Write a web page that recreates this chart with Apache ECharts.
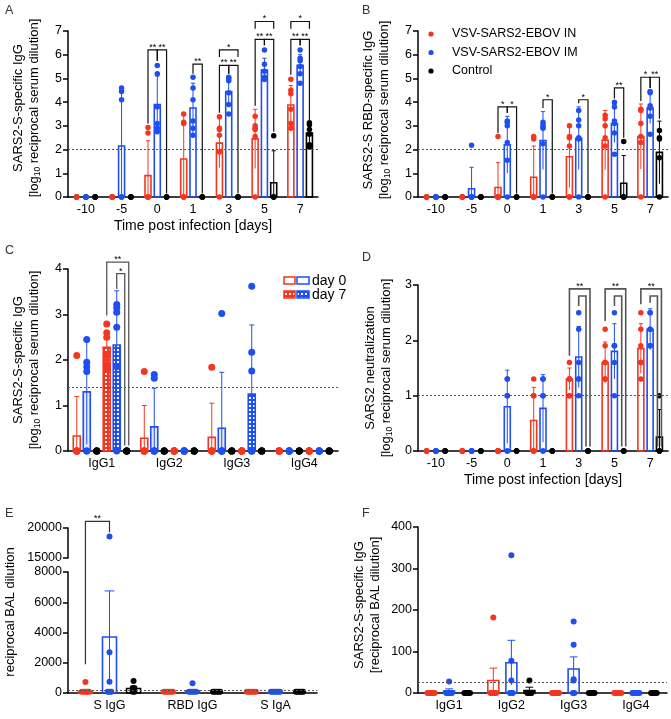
<!DOCTYPE html>
<html>
<head>
<meta charset="utf-8">
<script src="https://cdn.jsdelivr.net/npm/echarts@6/dist/echarts.min.js"></script>
<style>
  html, body { margin: 0; background: #fff; }
  #main { width: 671px; height: 719px; }
</style>
</head>
<body>
<div id="main"></div>
<script>
var RED = '#f5361f'
var BLUE = '#1e4ff2'
var BLACK = '#000000'
var FONT = 'Liberation Sans'

// A / B / D: groups are days post infection
var dayCats = ['-10', '-5', '0', '1', '3', '5', '7']

// A: SARS2-S-specific IgG, log10 serum dilution
var aMeanIN = [0, 0, 0.9, 1.6, 2.27, 2.45, 3.88]
var aTopIN = [0, 0, 2.37, 3.45, 3.3, 3.7, 4.7]
var aPtsIN = [[0, 0, 0, 0, 0, 0], [0, 0, 0, 0, 0, 0], [2.93, 2.7, 0, 0, 0, 0], [3.5, 3.15, 3.1, 0, 0, 0], [3.38, 2.9, 2.85, 2.6, 1.9, 0], [3.4, 3.0, 2.9, 2.85, 2.55, 0], [4.97, 4.5, 4.35, 3.7, 3.1, 2.9]]
var aMeanIM = [0, 2.15, 3.9, 3.75, 4.45, 5.35, 5.55]
var aTopIM = [0, 4.5, 5.1, 4.8, 4.98, 5.85, 6.0]
var aPtsIM = [[0, 0, 0, 0, 0, 0], [4.6, 4.45, 4.1, 0, 0, 0], [5.55, 5.2, 3.8, 3.1, 2.9, 2.75], [5.05, 4.6, 4.1, 3.2, 2.9, 2.6], [5.05, 5.0, 4.9, 4.4, 3.9, 3.5], [6.2, 5.6, 5.3, 5.05, 5.0, 4.95], [6.2, 5.85, 5.75, 5.5, 5.2, 4.8]]
var aMeanCtl = [0, 0, 0, 0, 0, 0.6, 2.7]
var aTopCtl = [0, 0, 0, 0, 0, 1.95, 3.12]
var aPtsCtl = [[0, 0, 0, 0], [0, 0, 0, 0], [0, 0, 0, 0], [0, 0, 0, 0], [0, 0, 0, 0], [2.58, 0, 0, 0], [3.13, 3.05, 2.85, 2.65, 2.2, 2.1]]
// [group, left bar, right bar, top, left leg end, right leg end, label, nest]
var aBrackets = [
  [2, 0, 1, 6.2, 3.1, 5.75, '**', 0],
  [2, 1, 2, 6.2, 5.75, 0.15, '**', 0],
  [3, 1, 2, 5.6, 5.2, 0.15, '**', 0],
  [4, 0, 2, 6.2, 5.9, 5.9, '*', 0],
  [4, 0, 1, 5.55, 3.55, 5.2, '**', 0],
  [4, 1, 2, 5.55, 5.2, 0.15, '**', 0],
  [5, 0, 2, 7.4, 7.1, 7.1, '*', 0],
  [5, 0, 1, 6.65, 3.85, 6.4, '**', 0],
  [5, 1, 2, 6.65, 6.4, 2.75, '**', 0],
  [6, 0, 2, 7.4, 7.1, 7.1, '*', 0],
  [6, 0, 1, 6.65, 5.15, 6.4, '**', 0],
  [6, 1, 2, 6.65, 6.4, 3.2, '**', 0]
]

// B: SARS2-S RBD-specific IgG
var bMeanIN = [0, 0, 0.4, 0.83, 1.7, 2.4, 2.55]
var bTopIN = [0, 0, 1.45, 2.15, 3.0, 3.65, 3.92]
var bPtsIN = [[0, 0, 0, 0, 0, 0], [0, 0, 0, 0, 0, 0], [2.55, 0, 0, 0, 0, 0], [2.55, 2.45, 0, 0, 0, 0], [3.0, 2.55, 2.5, 2.15, 0, 0], [3.45, 3.3, 3.0, 2.5, 2.15, 0], [3.7, 3.65, 3.1, 2.55, 2.3, 0]]
var bMeanIM = [0, 0.35, 2.2, 2.38, 2.48, 3.1, 3.75]
var bTopIM = [0, 1.25, 3.4, 3.6, 3.8, 3.9, 4.4]
var bPtsIM = [[0, 0, 0, 0, 0, 0], [2.18, 0, 0, 0, 0, 0], [3.2, 3.15, 3.0, 2.3, 1.55, 0], [3.15, 3.05, 2.95, 2.9, 2.25, 0], [3.65, 3.25, 3.0, 2.5, 2.45, 0], [4.0, 3.8, 3.2, 3.1, 2.7, 1.8], [4.45, 4.4, 3.85, 3.75, 3.4, 2.65]]
var bMeanCtl = [0, 0, 0, 0, 0, 0.58, 1.88]
var bTopCtl = [0, 0, 0, 0, 0, 1.75, 3.2]
var bPtsCtl = [[0, 0, 0, 0], [0, 0, 0, 0], [0, 0, 0, 0], [0, 0, 0, 0], [0, 0, 0, 0], [2.34, 0, 0, 0], [2.8, 2.5, 2.45, 1.65, 0]]
var bBrackets = [
  [2, 0, 1, 3.8, 2.7, 3.55, '*', 0],
  [2, 1, 2, 3.8, 3.55, 0.15, '*', 0],
  [3, 1, 2, 4.1, 3.75, 0.15, '*', 0],
  [4, 1, 2, 4.1, 3.95, 0.15, '*', 0],
  [5, 1, 2, 4.6, 4.15, 2.5, '**', 0],
  [6, 0, 1, 5.05, 4.05, 4.6, '*', 0],
  [6, 1, 2, 5.05, 4.6, 3.3, '**', 0]
]

// C: IgG subclasses, day 0 and day 7
var subCats = ['IgG1', 'IgG2', 'IgG3', 'IgG4']
var cMeanIN0 = [0.33, 0.28, 0.3, 0]
var cTopIN0 = [1.2, 1.0, 1.05, 0]
var cPtsIN0 = [[2.1, 0, 0, 0, 0, 0], [1.75, 0, 0, 0, 0, 0], [1.84, 0, 0, 0, 0, 0], [0, 0, 0, 0, 0, 0]]
var cMeanIM0 = [1.3, 0.53, 0.5, 0]
var cTopIM0 = [2.45, 1.38, 1.73, 0]
var cPtsIM0 = [[2.45, 1.95, 1.85, 1.75, 0, 0], [1.68, 1.6, 0, 0, 0, 0], [3.02, 0, 0, 0, 0, 0], [0, 0, 0, 0, 0, 0]]
var cMeanCtl0 = [0, 0, 0, 0]
var cPtsCtl0 = [[0, 0, 0, 0], [0, 0, 0, 0], [0, 0, 0, 0], [0, 0, 0, 0]]
var cMeanIN7 = [2.28, 0, 0, 0]
var cTopIN7 = [2.5, 0, 0, 0]
var cPtsIN7 = [[2.79, 2.6, 2.5, 2.1, 1.9, 1.8], [0, 0, 0, 0, 0, 0], [0, 0, 0, 0, 0, 0], [0, 0, 0, 0, 0, 0]]
var cMeanIM7 = [2.33, 0, 1.25, 0]
var cTopIM7 = [3.52, 0, 2.77, 0]
var cPtsIM7 = [[3.22, 3.15, 3.05, 2.72, 1.85, 0], [0, 0, 0, 0, 0, 0], [3.62, 2.17, 1.76, 0, 0, 0], [0, 0, 0, 0, 0, 0]]
var cMeanCtl7 = [0, 0, 0, 0]
var cPtsCtl7 = [[0, 0, 0, 0], [0, 0, 0, 0], [0, 0, 0, 0], [0, 0, 0, 0]]
var cBrackets = [
  [0, 3, 5, 4.15, 2.98, 0.12, '**', 1],
  [0, 4, 5, 3.9, 3.56, 0.12, '*', -1]
]

// D: neutralization
var dMeanIN = [0, 0, 0, 0.55, 1.3, 1.6, 1.85]
var dTopIN = [0, 0, 0, 1.15, 1.5, 1.97, 2.3]
var dPtsIN = [[0, 0, 0, 0, 0, 0], [0, 0, 0, 0, 0, 0], [0, 0, 0, 0, 0, 0], [1.3, 1.0, 1.0, 0, 0, 0], [1.6, 1.3, 1.3, 1.3, 1.0, 1.0], [2.2, 1.9, 1.6, 1.6, 1.3, 1.3], [2.5, 2.2, 1.9, 1.6, 1.6, 1.3]]
var dMeanIM = [0, 0, 0.8, 0.77, 1.7, 1.8, 2.2]
var dTopIM = [0, 0, 1.46, 1.38, 2.25, 2.3, 2.57]
var dPtsIM = [[0, 0, 0, 0, 0, 0], [0, 0, 0, 0, 0, 0], [1.3, 1.3, 1.0, 1.0, 0, 0], [1.3, 1.3, 1.0, 1.0, 0, 0], [2.5, 2.2, 1.6, 1.3, 1.3, 1.0], [2.5, 1.9, 1.9, 1.9, 1.6, 1.0], [2.5, 2.5, 2.2, 2.2, 1.9, 1.9]]
var dMeanCtl = [0, 0, 0, 0, 0, 0, 0.25]
var dTopCtl = [0, 0, 0, 0, 0, 0, 0.75]
var dPtsCtl = [[0, 0, 0, 0], [0, 0, 0, 0], [0, 0, 0, 0], [0, 0, 0, 0], [0, 0, 0, 0], [0, 0, 0, 0], [1.0, 0, 0, 0]]
var dBrackets = [
  [4, 0, 2, 2.93, 1.72, 0.08, '**', 1],
  [4, 1, 2, 2.8, 2.62, 0.08, '', -1],
  [5, 0, 2, 2.93, 2.35, 0.08, '**', 1],
  [5, 1, 2, 2.8, 2.62, 0.08, '', -1],
  [6, 0, 2, 2.93, 2.65, 0.08, '**', 1],
  [6, 1, 2, 2.8, 2.68, 0.08, '', -1]
]

// E: BAL, reciprocal dilution (broken axis)
var balCats = ['S IgG', 'RBD IgG', 'S IgA']
var eMeanIN = [120, 40, 30]
var ePtsIN = [[730, 80, 80, 80, 80, 80], [80, 80, 80, 80, 80, 80], [80, 80, 80, 80, 80, 80]]
var eMeanIM = [3700, 140, 40]
var eTopIM = [6750, 140, 40]
var ePtsIM = [[18600, 2700, 750, 80, 80, 80], [650, 80, 80, 80, 80, 80], [80, 80, 80, 80, 80, 80]]
var eMeanCtl = [300, 30, 30]
var ePtsCtl = [[800, 330, 330, 80, 80], [80, 80, 80, 80, 80], [80, 80, 80, 80, 80]]
var eBracket = [0, 0, 1, 21100, 1900, 19300, '**']

// F: BAL IgG subclasses
var fMeanIN = [0, 30, 0, 0]
var fTopIN = [0, 60, 0, 0]
var fPtsIN = [[0, 0, 0, 0, 0, 0], [182, 0, 0, 0, 0, 0], [0, 0, 0, 0, 0, 0], [0, 0, 0, 0, 0, 0]]
var fMeanIM = [5, 73, 58, 0]
var fTopIM = [10, 127, 87, 0]
var fPtsIM = [[28, 0, 0, 0, 0, 0], [332, 78, 30, 0, 0, 0], [172, 116, 33, 30, 0, 0], [0, 0, 0, 0, 0, 0]]
var fMeanCtl = [0, 6, 0, 0]
var fTopCtl = [0, 14, 0, 0]
var fPtsCtl = [[0, 0, 0, 0, 0], [30, 0, 0, 0, 0], [0, 0, 0, 0, 0], [0, 0, 0, 0, 0]]

var pos3 = [-0.26, 0, 0.26]
var pos6 = [-0.37, -0.222, -0.074, 0.074, 0.222, 0.37]
var posWide = [-0.29, 0, 0.29]

function checker (color) {
  var cv = document.createElement('canvas')
  cv.width = 4
  cv.height = 4
  var ctx = cv.getContext('2d')
  ctx.fillStyle = color
  ctx.fillRect(0, 0, 4, 4)
  ctx.fillStyle = '#fff'
  ctx.fillRect(1, 1, 2, 2)
  return { image: cv, repeat: 'repeat' }
}

function barSeries (grid, mean, top, color, pos, w, fill, refLine) {
  var s = {
    type: 'custom',
    xAxisIndex: grid,
    yAxisIndex: grid,
    z: 3,
    clip: false,
    data: mean.map(function (m, i) { return [i, m, top ? top[i] : m] }),
    renderItem: function (params, api) {
      var band = api.size([1, 0])[0]
      var g = api.value(0)
      var c = api.coord([g, 0])
      var x = c[0] + pos * band
      var m = api.value(1)
      var t = api.value(2)
      var yM = api.coord([g, m])[1]
      var kids = []
      if (t > m) {
        var yT = api.coord([g, t])[1]
        var yB = api.coord([g, Math.max(0, 2 * m - t)])[1]
        kids.push({ type: 'line', shape: { x1: x, y1: yB, x2: x, y2: yT }, style: { stroke: color, lineWidth: 1 } })
        kids.push({ type: 'line', shape: { x1: x - w * 0.35, y1: yT, x2: x + w * 0.35, y2: yT }, style: { stroke: color, lineWidth: 1 } })
      }
      if (c[1] - yM > 0.5) {
        kids.push({
          type: 'rect',
          shape: { x: x - w / 2, y: yM, width: w, height: c[1] - yM },
          style: { fill: fill || 'rgba(255,255,255,0)', stroke: color, lineWidth: 1.6 }
        })
      }
      return { type: 'group', children: kids }
    }
  }
  if (refLine !== undefined) {
    s.markLine = {
      silent: true,
      symbol: 'none',
      label: { show: false },
      lineStyle: { type: [2, 2], color: '#555', width: 1 },
      data: [{ yAxis: refLine }]
    }
  }
  return s
}

function pointSeries (grid, pts, color, pos, size, spread, keep) {
  var data = []
  pts.forEach(function (list, g) {
    list.forEach(function (v, k) {
      if (keep && !keep(v)) return
      var n = list.filter(function (u) { return u === v }).length
      var rank = list.slice(0, k).filter(function (u) { return u === v }).length
      data.push([g, v, rank - (n - 1) / 2])
    })
  })
  return {
    type: 'custom',
    xAxisIndex: grid,
    yAxisIndex: grid,
    z: 4,
    clip: false,
    data: data,
    renderItem: function (params, api) {
      var band = api.size([1, 0])[0]
      var c = api.coord([api.value(0), api.value(1)])
      return {
        type: 'circle',
        shape: { cx: c[0] + pos * band + api.value(2) * spread, cy: c[1], r: size / 2 },
        style: { fill: color }
      }
    }
  }
}

function bracketSeries (grid, items, pos, color, lw) {
  return {
    type: 'custom',
    xAxisIndex: grid,
    yAxisIndex: grid,
    z: 5,
    clip: false,
    data: items.map(function (b) { return [b[0], b[1], b[2], b[3], b[4], b[5], b[7]] }),
    renderItem: function (params, api) {
      var band = api.size([1, 0])[0]
      var g = api.value(0)
      var cx = api.coord([g, 0])[0]
      var xl = cx + pos[api.value(1)] * band
      var xr = cx + pos[api.value(2)] * band + api.value(6) * 2
      var yt = api.coord([g, api.value(3)])[1]
      var yl = api.coord([g, api.value(4)])[1]
      var yr = api.coord([g, api.value(5)])[1]
      return {
        type: 'group',
        children: [
          { type: 'polyline', shape: { points: [[xl, yl], [xl, yt], [xr, yt], [xr, yr]] }, style: { stroke: color, lineWidth: lw, fill: null } },
          { type: 'text', x: (xl + xr) / 2, y: yt + 2, style: { text: items[params.dataIndex][6], fontSize: 9, fontFamily: FONT, fill: '#000', align: 'center', verticalAlign: 'bottom' } }
        ]
      }
    }
  }
}

function catAxis (grid, cats, show, name) {
  return {
    type: 'category',
    gridIndex: grid,
    data: cats,
    show: show,
    axisLine: { lineStyle: { color: '#000', width: 1.5 } },
    axisTick: { alignWithLabel: true, length: 5, lineStyle: { color: '#000', width: 1.5 } },
    axisLabel: { color: '#000', fontSize: 12.5, fontFamily: FONT, margin: 6, interval: 0 },
    name: name || '',
    nameLocation: 'middle',
    nameGap: 22,
    nameTextStyle: { color: '#000', fontSize: 14, fontFamily: FONT }
  }
}

function valAxis (grid, min, max, step) {
  return {
    type: 'value',
    gridIndex: grid,
    min: min,
    max: max,
    interval: step,
    splitLine: { show: false },
    axisLine: { show: true, lineStyle: { color: '#000', width: 1.5 } },
    axisTick: { show: true, length: 5, lineStyle: { color: '#000', width: 1.5 } },
    axisLabel: {
      color: '#000',
      fontSize: 12.5,
      fontFamily: FONT,
      margin: 6,
      formatter: function (v) { return String(v) }
    }
  }
}

var grids = [
  { left: 68, top: 31, width: 250, height: 166 },   // A
  { left: 418, top: 31, width: 250, height: 166 },  // B
  { left: 68, top: 269, width: 270, height: 182 },  // C
  { left: 418, top: 285, width: 250, height: 166 }, // D
  { left: 68, top: 572, width: 249, height: 121 },  // E lower
  { left: 68, top: 528, width: 249, height: 30 },   // E upper
  { left: 418, top: 527, width: 249, height: 166 }  // F
]

var xAxes = [
  catAxis(0, dayCats, true, 'Time post infection [days]'),
  catAxis(1, dayCats, true),
  catAxis(2, subCats, true),
  catAxis(3, dayCats, true, 'Time post infection [days]'),
  catAxis(4, balCats, true),
  catAxis(5, balCats, false),
  catAxis(6, subCats, true)
]
var yAxes = [
  valAxis(0, 0, 7, 1),
  valAxis(1, 0, 7, 1),
  valAxis(2, 0, 4, 1),
  valAxis(3, 0, 3, 1),
  valAxis(4, 0, 8000, 2000),
  valAxis(5, 15000, 20000, 5000),
  valAxis(6, 0, 400, 100)
]

var series = []
function serumPanel (grid, mIN, tIN, pIN, mIM, tIM, pIM, mC, tC, pC, brackets, ref, blw, bcol) {
  series.push(barSeries(grid, mIN, tIN, RED, pos3[0], 6, null, ref))
  series.push(barSeries(grid, mIM, tIM, BLUE, pos3[1], 6))
  series.push(barSeries(grid, mC, tC, BLACK, pos3[2], 6))
  series.push(pointSeries(grid, pIN, RED, pos3[0], 5.5, 0))
  series.push(pointSeries(grid, pIM, BLUE, pos3[1], 5.5, 0))
  series.push(pointSeries(grid, pC, BLACK, pos3[2], 5.5, 0))
  series.push(bracketSeries(grid, brackets, pos3, bcol, blw))
}
serumPanel(0, aMeanIN, aTopIN, aPtsIN, aMeanIM, aTopIM, aPtsIM, aMeanCtl, aTopCtl, aPtsCtl, aBrackets, 2, 1.2, '#111')
serumPanel(1, bMeanIN, bTopIN, bPtsIN, bMeanIM, bTopIM, bPtsIM, bMeanCtl, bTopCtl, bPtsCtl, bBrackets, 2, 1.2, '#111')
serumPanel(3, dMeanIN, dTopIN, dPtsIN, dMeanIM, dTopIM, dPtsIM, dMeanCtl, dTopCtl, dPtsCtl, dBrackets, 1, 1.6, '#555')

// C
series.push(barSeries(2, cMeanIN0, cTopIN0, RED, pos6[0], 7, null, 1.4))
series.push(barSeries(2, cMeanIM0, cTopIM0, BLUE, pos6[1], 7, 'rgba(30,79,242,0.12)'))
series.push(barSeries(2, cMeanCtl0, null, BLACK, pos6[2], 7))
series.push(barSeries(2, cMeanIN7, cTopIN7, RED, pos6[3], 7, checker(RED)))
series.push(barSeries(2, cMeanIM7, cTopIM7, BLUE, pos6[4], 7, checker(BLUE)))
series.push(barSeries(2, cMeanCtl7, null, BLACK, pos6[5], 7))
series.push(pointSeries(2, cPtsIN0, RED, pos6[0], 7, 0))
series.push(pointSeries(2, cPtsIM0, BLUE, pos6[1], 7, 0))
series.push(pointSeries(2, cPtsCtl0, BLACK, pos6[2], 7, 0))
series.push(pointSeries(2, cPtsIN7, RED, pos6[3], 7, 0))
series.push(pointSeries(2, cPtsIM7, BLUE, pos6[4], 7, 0))
series.push(pointSeries(2, cPtsCtl7, BLACK, pos6[5], 7, 0))
series.push(bracketSeries(2, cBrackets, pos6, '#555', 1.3))

// E (lower and upper part of the broken axis)
var low = function (v) { return v <= 8000 }
var high = function (v) { return v > 8000 }
series.push(barSeries(4, eMeanIN, null, RED, posWide[0], 14, null, 175))
series.push(barSeries(4, eMeanIM, eTopIM, BLUE, posWide[1], 14))
series.push(barSeries(4, eMeanCtl, null, BLACK, posWide[2], 14))
series.push(pointSeries(4, ePtsIN, RED, posWide[0], 6, 1.8, low))
series.push(pointSeries(4, ePtsIM, BLUE, posWide[1], 6, 1.8, low))
series.push(pointSeries(4, ePtsCtl, BLACK, posWide[2], 6, 1.8, low))
series.push(pointSeries(5, ePtsIM, BLUE, posWide[1], 6, 0, high))

// F
series.push(barSeries(6, fMeanIN, fTopIN, RED, posWide[0], 11, null, 25))
series.push(barSeries(6, fMeanIM, fTopIM, BLUE, posWide[1], 11))
series.push(barSeries(6, fMeanCtl, fTopCtl, BLACK, posWide[2], 11))
series.push(pointSeries(6, fPtsIN, RED, posWide[0], 6, 1.4))
series.push(pointSeries(6, fPtsIM, BLUE, posWide[1], 6, 1.4))
series.push(pointSeries(6, fPtsCtl, BLACK, posWide[2], 6, 1.4))

var chart = echarts.init(document.getElementById('main'))
chart.setOption({
  animation: false,
  backgroundColor: '#fff',
  grid: grids,
  xAxis: xAxes,
  yAxis: yAxes,
  series: series
})

function yTitle (x, y, text) {
  return {
    type: 'text',
    x: x,
    y: y,
    rotation: Math.PI / 2,
    style: {
      text: text,
      fontSize: 13,
      fontFamily: FONT,
      fill: '#000',
      align: 'center',
      verticalAlign: 'middle',
      lineHeight: 16,
      rich: { sub: { fontSize: 8.5, fontFamily: FONT, verticalAlign: 'bottom', lineHeight: 16 } }
    }
  }
}
function letter (x, y, t) {
  return { type: 'text', x: x, y: y, style: { text: t, fontSize: 12.5, fontFamily: FONT, fill: '#333' } }
}

var logLine = '[log{sub|10} reciprocal serum dilution]'
var elements = [
  letter(5, 4, 'A'), letter(362, 4, 'B'), letter(5, 244, 'C'),
  letter(362, 251, 'D'), letter(5, 507, 'E'), letter(362, 507, 'F'),
  yTitle(26, 108, 'SARS2-S-specific IgG\n' + logLine),
  yTitle(376, 110, 'SARS2-S RBD-specific IgG\n' + logLine),
  yTitle(26, 360, 'SARS2-S-specific IgG\n' + logLine),
  yTitle(378, 368, 'SARS2 neutralization\n' + logLine),
  yTitle(10, 612, 'reciprocal BAL dilution'),
  yTitle(367, 605, 'SARS2-S-specific IgG\n[reciprocal BAL dilution]')
]

// legend B
var legB = [['VSV-SARS2-EBOV IN', RED], ['VSV-SARS2-EBOV IM', BLUE], ['Control', BLACK]]
legB.forEach(function (l, i) {
  elements.push({ type: 'circle', shape: { cx: 431, cy: 34 + i * 18.5, r: 2.6 }, style: { fill: l[1] } })
  elements.push({ type: 'text', x: 452, y: 34 + i * 18.5, style: { text: l[0], fontSize: 12.5, fontFamily: FONT, fill: '#000', verticalAlign: 'middle' } })
})

// legend C
elements.push({ type: 'rect', shape: { x: 284, y: 277, width: 11, height: 7 }, style: { fill: '#fff', stroke: RED, lineWidth: 1.5 } })
elements.push({ type: 'rect', shape: { x: 297, y: 277, width: 12, height: 7 }, style: { fill: '#fff', stroke: BLUE, lineWidth: 1.5 } })
elements.push({ type: 'text', x: 312, y: 281, style: { text: 'day 0', fontSize: 14, fontFamily: FONT, fill: '#000', verticalAlign: 'middle' } })
elements.push({ type: 'rect', shape: { x: 284, y: 291, width: 11, height: 7 }, style: { fill: checker(RED), stroke: RED, lineWidth: 1.5 } })
elements.push({ type: 'rect', shape: { x: 297, y: 291, width: 12, height: 7 }, style: { fill: checker(BLUE), stroke: BLUE, lineWidth: 1.5 } })
elements.push({ type: 'text', x: 312, y: 295, style: { text: 'day 7', fontSize: 14, fontFamily: FONT, fill: '#000', verticalAlign: 'middle' } })

// bracket across the axis break of E
var c0 = chart.convertToPixel({ gridIndex: 4 }, [0, 0])
var c1 = chart.convertToPixel({ gridIndex: 4 }, [1, 0])
var band = c1[0] - c0[0]
var xl = c0[0] + posWide[eBracket[1]] * band
var xr = c0[0] + posWide[eBracket[2]] * band
var yLow = chart.convertToPixel({ gridIndex: 4 }, [0, eBracket[4]])[1]
var yTop = chart.convertToPixel({ gridIndex: 5 }, [0, eBracket[3]])[1]
var yR = chart.convertToPixel({ gridIndex: 5 }, [0, eBracket[5]])[1]
elements.push({ type: 'polyline', shape: { points: [[xl, yLow], [xl, yTop], [xr, yTop], [xr, yR]] }, style: { stroke: '#333', lineWidth: 1.2, fill: null } })
elements.push({ type: 'text', x: (xl + xr) / 2, y: yTop + 2, style: { text: eBracket[6], fontSize: 9, fontFamily: FONT, fill: '#000', align: 'center', verticalAlign: 'bottom' } })

chart.setOption({ graphic: { elements: elements } })
</script>
</body>
</html>
